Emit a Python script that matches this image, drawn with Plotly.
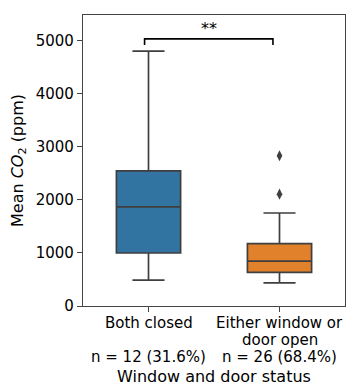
import plotly.graph_objects as go

categories = ["Both closed", "Either window or door open"]
cat_line1 = ["Both closed", "Either window or"]
cat_line2 = ["", "door open"]
n_labels = ["n = 12 (31.6%)", "n = 26 (68.4%)"]
q1 = [1000, 635]
median = [1870, 845]
q3 = [2550, 1175]
lower_whisker = [490, 435]
upper_whisker = [4810, 1755]
outlier_values = [2110, 2835]
outlier_cat = [1, 1]
colors = ["#3274a1", "#e1812c"]
y_ticks = [0, 1000, 2000, 3000, 4000, 5000]
bracket_x = [-0.03, -0.03, 0.95, 0.95]
bracket_y = [4925, 5040, 5040, 4925]
sig_label = "**"

FONT = "DejaVu Sans"
LINE = "#3f3f3f"
SPINE = "#444444"
TICK_SIZE = 15
LABEL_SIZE = 16

fig = go.Figure()
for i in range(2):
    fig.add_trace(go.Box(
        x=[i], q1=[q1[i]], median=[median[i]], q3=[q3[i]],
        lowerfence=[lower_whisker[i]], upperfence=[upper_whisker[i]],
        width=0.49, whiskerwidth=0.5,
        fillcolor=colors[i], line=dict(color=LINE, width=1.7),
        boxpoints=False, showlegend=False, hoverinfo="skip",
    ))

fig.add_trace(go.Scatter(
    x=outlier_cat, y=outlier_values, mode="markers",
    marker=dict(symbol="diamond-tall", size=8, color=LINE, line=dict(width=0)),
    showlegend=False,
))
fig.add_trace(go.Scatter(
    x=bracket_x, y=bracket_y, mode="lines",
    line=dict(color="black", width=1.6), showlegend=False,
))

fig.add_annotation(x=(bracket_x[0] + bracket_x[2]) / 2, y=bracket_y[1], text=sig_label,
                   showarrow=False, yanchor="bottom", yshift=-1,
                   font=dict(family=FONT, size=LABEL_SIZE, color="black"))

for i in range(2):
    fig.add_annotation(x=i, y=0, xref="x", yref="paper", text=cat_line1[i],
                       showarrow=False, yanchor="middle", yshift=-17,
                       font=dict(family=FONT, size=TICK_SIZE, color="black"))
    if cat_line2[i]:
        fig.add_annotation(x=i, y=0, xref="x", yref="paper", text=cat_line2[i],
                           showarrow=False, yanchor="middle", yshift=-34,
                           font=dict(family=FONT, size=TICK_SIZE, color="black"))
    fig.add_annotation(x=i, y=0, xref="x", yref="paper", text=n_labels[i],
                       showarrow=False, yanchor="middle", yshift=-51,
                       font=dict(family=FONT, size=TICK_SIZE, color="black"))

fig.add_annotation(x=0.5, y=0, xref="x", yref="paper", text="Window and door status",
                   showarrow=False, yanchor="middle", yshift=-70,
                   font=dict(family=FONT, size=LABEL_SIZE, color="black"))

fig.update_layout(
    width=350, height=385,
    margin=dict(l=83, r=5, t=15, b=79),
    paper_bgcolor="white", plot_bgcolor="white",
    font=dict(family=FONT, size=TICK_SIZE, color="black"),
    showlegend=False,
    xaxis=dict(range=[-0.5, 1.5], tickvals=[0, 1], showticklabels=False,
               ticks="outside", ticklen=5, tickcolor=SPINE, tickwidth=1.2,
               showline=True, linecolor=SPINE, linewidth=1.2, mirror=True,
               showgrid=False, zeroline=False),
    yaxis=dict(range=[0, 5490], tickvals=y_ticks,
               ticks="outside", ticklen=5, tickcolor=SPINE, tickwidth=1.2,
               showline=True, linecolor=SPINE, linewidth=1.2, mirror=True,
               showgrid=False, zeroline=False,
               tickfont=dict(family=FONT, size=TICK_SIZE, color="black"),
               title=dict(text="Mean <i>CO</i><sub>2</sub> (ppm)", standoff=8,
                          font=dict(family=FONT, size=LABEL_SIZE, color="black"))),
)

fig.write_html("out.html", config={"displayModeBar": False},
               post_script="document.body.style.margin='0';document.body.style.overflow='hidden';")
